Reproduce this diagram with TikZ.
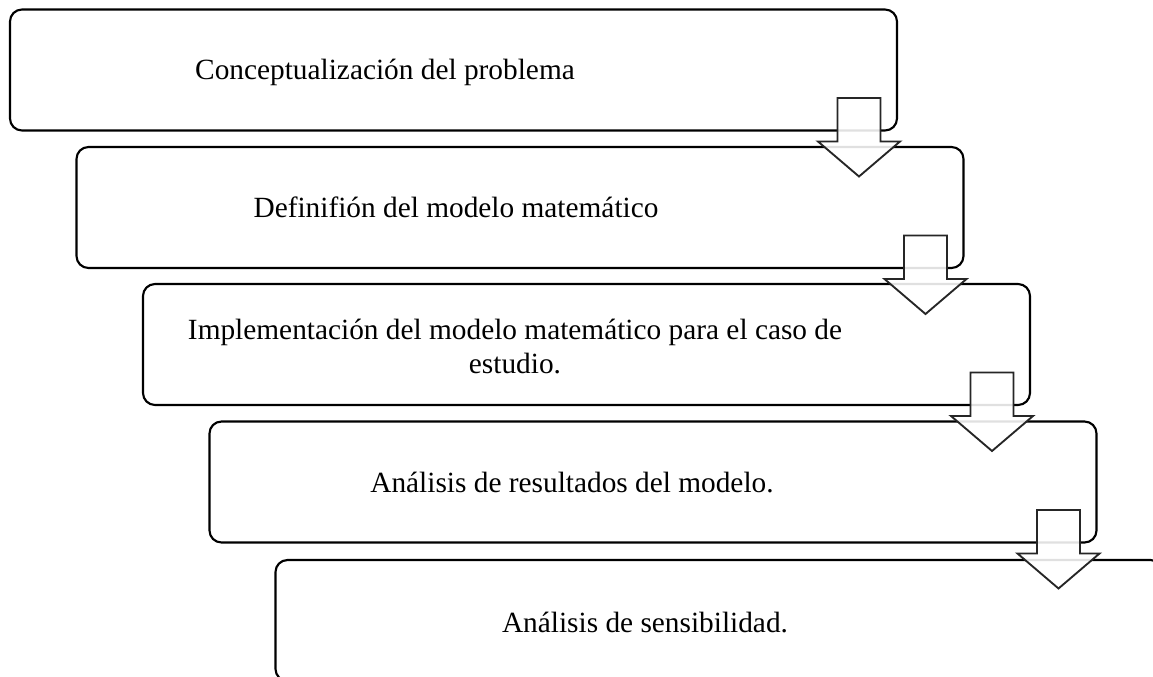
\documentclass[tikz,border=0pt]{standalone}
\usepackage{fontspec}
\setmainfont{Liberation Serif}
\usetikzlibrary{calc}

\tikzset{
  caja/.style={draw=black, line width=1.6pt, rounded corners=9pt, minimum width=665.25pt, minimum height=90.75pt, inner sep=0pt, outer sep=0pt},
  flecha/.style={draw=black!85, line width=1.4pt, fill=white, fill opacity=0.88, line join=miter},
  texto/.style={anchor=base, inner sep=0.75pt, font=\fontsize{22}{25.4}\selectfont}
}

\begin{document}
\begin{tikzpicture}[x=0.75pt,y=0.75pt,yscale=-1,xscale=1]
        \useasboundingbox (0,0) rectangle (1153,676);
        \clip (0,0) rectangle (1153,676);

        %Shape: Rounded Rect [id:c1]
        \draw (453.5,70) node (c1) [caja] {};
        %Shape: Rounded Rect [id:c2]
        \draw (520,207.5) node (c2) [caja] {};
        %Shape: Rounded Rect [id:c3]
        \draw (586.5,344.5) node (c3) [caja] {};
        %Shape: Rounded Rect [id:c4]
        \draw (653,482) node (c4) [caja] {};
        %Shape: Rounded Rect [id:c5]
        \draw (719,620.5) node (c5) [caja] {};

        %Down Arrows between the boxes
        \foreach \i in {1,...,4} {
          \begin{scope}[shift={($(c\i.south east)+(-38,0)$)}]
            \draw [flecha] (-21.5,-32.5) -- (21.5,-32.5) -- (21.5,11) -- (41,11) -- (0,46) -- (-41,11) -- (-21.5,11) -- cycle ;
          \end{scope}
        }

        % Text Node
        \draw (385,79) node (t1) [texto] {Conceptualización del problema};
        % Text Node
        \draw (456,217) node (t2) [texto] {Definifión del modelo matemático};
        % Text Node (two lines, base = last line)
        \draw (515,373) node (t3) [texto, align=center] {Implementación del modelo matemático para el caso de\\estudio.};
        % Text Node
        \draw (572,492) node (t4) [texto] {Análisis de resultados del modelo.};
        % Text Node
        \draw (645,632) node (t5) [texto] {Análisis de sensibilidad.};

\end{tikzpicture}
\end{document}
